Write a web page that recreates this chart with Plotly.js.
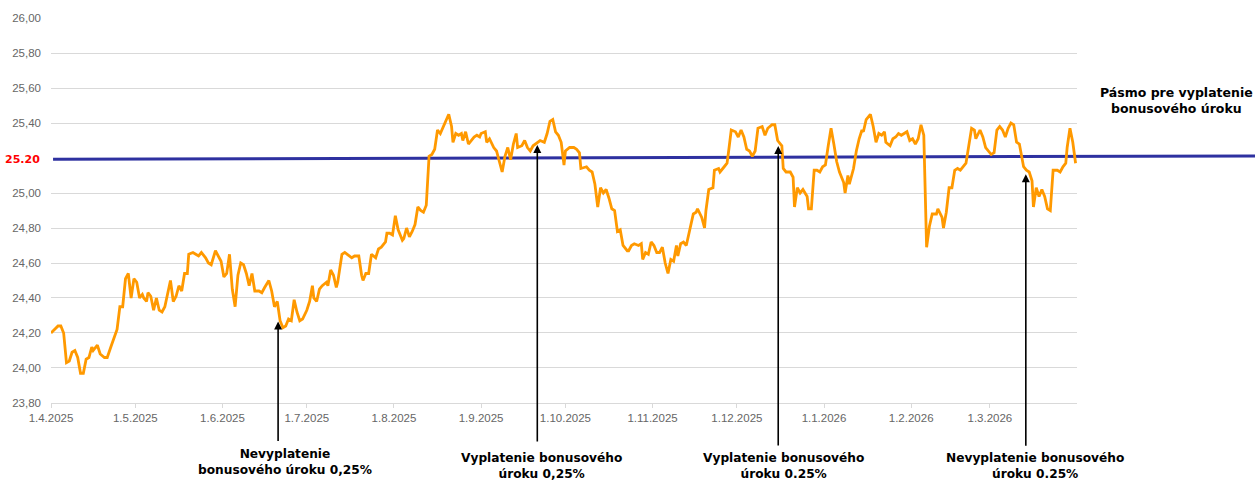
<!DOCTYPE html>
<html>
<head>
<meta charset="utf-8">
<script src="https://cdn.plot.ly/plotly-3.0.1.min.js"></script>
<style>html,body{margin:0;padding:0;background:#fff;}#chart{width:1255px;height:481px;}</style>
</head>
<body>
<div id="chart"></div>
<script>
// Daily fixing series (date, value)
const dates = [
'2025-04-01','2025-04-03 12:00','2025-04-04 12:00','2025-04-05 12:00','2025-04-06 12:00','2025-04-07 12:00','2025-04-08 12:00','2025-04-09 12:00','2025-04-10 12:00','2025-04-11 12:00','2025-04-12 12:00','2025-04-13 12:00','2025-04-14 12:00','2025-04-15 12:00','2025-04-16','2025-04-17 12:00','2025-04-18 12:00','2025-04-20','2025-04-21','2025-04-21 12:00','2025-04-22 12:00','2025-04-24 12:00','2025-04-25 12:00','2025-04-26 12:00','2025-04-27 12:00','2025-04-28 12:00','2025-04-29 12:00','2025-04-30 12:00',
'2025-05-01 12:00','2025-05-02 12:00','2025-05-03 12:00','2025-05-04','2025-05-05','2025-05-05 12:00','2025-05-06 12:00','2025-05-07 12:00','2025-05-08 12:00','2025-05-09 12:00','2025-05-10 12:00','2025-05-11 12:00','2025-05-12 12:00','2025-05-13 12:00','2025-05-14 12:00','2025-05-15 12:00','2025-05-16 12:00','2025-05-17 12:00','2025-05-18 12:00','2025-05-19 12:00','2025-05-20','2025-05-21 12:00','2025-05-22 12:00','2025-05-23 12:00','2025-05-24 12:00','2025-05-26','2025-05-27','2025-05-28','2025-05-29 12:00','2025-05-30 12:00','2025-05-31 12:00',
'2025-06-01 12:00','2025-06-02 12:00','2025-06-03 12:00','2025-06-04 12:00','2025-06-05 12:00','2025-06-06 12:00','2025-06-07 12:00','2025-06-08 12:00','2025-06-09 12:00','2025-06-10 12:00','2025-06-11 12:00','2025-06-12 12:00','2025-06-14','2025-06-15','2025-06-16','2025-06-17','2025-06-17 12:00','2025-06-18 12:00','2025-06-19 12:00','2025-06-20 12:00','2025-06-21 12:00','2025-06-22 12:00','2025-06-23 12:00','2025-06-24 12:00','2025-06-25 12:00','2025-06-26 12:00','2025-06-27 12:00','2025-06-28 12:00','2025-06-29 12:00',
'2025-07-01','2025-07-02','2025-07-03','2025-07-03 12:00','2025-07-04 12:00','2025-07-05 12:00','2025-07-06 12:00','2025-07-08','2025-07-08 12:00','2025-07-09 12:00','2025-07-10 12:00','2025-07-11 12:00','2025-07-12','2025-07-13 12:00','2025-07-14 12:00','2025-07-16','2025-07-17','2025-07-18','2025-07-19 12:00','2025-07-20 12:00','2025-07-21','2025-07-22','2025-07-23','2025-07-24','2025-07-25 12:00','2025-07-26 12:00','2025-07-27 12:00','2025-07-29','2025-07-29 12:00','2025-07-30 12:00','2025-07-31 12:00',
'2025-08-01 12:00','2025-08-02 12:00','2025-08-04','2025-08-04 12:00','2025-08-05 12:00','2025-08-06 12:00','2025-08-07 12:00','2025-08-08 12:00','2025-08-09 12:00','2025-08-10 12:00','2025-08-11 12:00','2025-08-12 12:00','2025-08-13 12:00','2025-08-14 12:00','2025-08-15 12:00','2025-08-16 12:00','2025-08-17 12:00','2025-08-18 12:00','2025-08-20','2025-08-20 12:00','2025-08-21 12:00','2025-08-22','2025-08-23','2025-08-24','2025-08-25','2025-08-25 12:00','2025-08-26 12:00','2025-08-27 12:00','2025-08-28 12:00','2025-08-29 12:00','2025-08-30 12:00','2025-08-31 12:00',
'2025-09-01','2025-09-02 12:00','2025-09-03','2025-09-04','2025-09-05 12:00','2025-09-06 12:00','2025-09-07 12:00','2025-09-08 12:00','2025-09-09 12:00','2025-09-10 12:00','2025-09-11 12:00','2025-09-12 12:00','2025-09-13 12:00','2025-09-14','2025-09-15 12:00','2025-09-16 12:00','2025-09-17 12:00','2025-09-18 12:00','2025-09-19 12:00','2025-09-21','2025-09-22','2025-09-23 12:00','2025-09-24 12:00','2025-09-25 12:00','2025-09-26 12:00','2025-09-27 12:00','2025-09-28 12:00','2025-09-29 12:00','2025-09-30 12:00',
'2025-10-01','2025-10-02 12:00','2025-10-04','2025-10-05','2025-10-06','2025-10-06 12:00','2025-10-08 12:00','2025-10-09 12:00','2025-10-10 12:00','2025-10-11 12:00','2025-10-12 12:00','2025-10-13 12:00','2025-10-14 12:00','2025-10-15 12:00','2025-10-16 12:00','2025-10-17 12:00','2025-10-18 12:00','2025-10-19 12:00','2025-10-20 12:00','2025-10-21 12:00','2025-10-23','2025-10-23 12:00','2025-10-24 12:00','2025-10-25 12:00','2025-10-27','2025-10-28','2025-10-28 12:00','2025-10-29 12:00','2025-10-30 12:00','2025-10-31 12:00',
'2025-11-01 12:00','2025-11-02 12:00','2025-11-03 12:00','2025-11-04 12:00','2025-11-05 12:00','2025-11-06 12:00','2025-11-07 12:00','2025-11-08 12:00','2025-11-09 12:00','2025-11-10','2025-11-11','2025-11-12','2025-11-13','2025-11-14 12:00','2025-11-15 12:00','2025-11-16 12:00','2025-11-17','2025-11-18 12:00','2025-11-19 12:00','2025-11-20','2025-11-21','2025-11-22 12:00','2025-11-23','2025-11-24 12:00','2025-11-25','2025-11-26 12:00','2025-11-27 12:00','2025-11-28','2025-11-29','2025-11-30 12:00',
'2025-12-01 12:00','2025-12-02 12:00','2025-12-03 12:00','2025-12-04 12:00','2025-12-05 12:00','2025-12-06 12:00','2025-12-07 12:00','2025-12-08 12:00','2025-12-10','2025-12-11','2025-12-12','2025-12-13 12:00','2025-12-14 12:00','2025-12-15 12:00','2025-12-16 12:00','2025-12-17','2025-12-17 12:00','2025-12-18 12:00','2025-12-20','2025-12-21','2025-12-21 12:00','2025-12-22 12:00','2025-12-23 12:00','2025-12-24 12:00','2025-12-26','2025-12-26 12:00','2025-12-27 12:00','2025-12-28 12:00','2025-12-29 12:00','2025-12-30 12:00','2025-12-31 12:00',
'2026-01-01 12:00','2026-01-02 12:00','2026-01-03 12:00','2026-01-04 12:00','2026-01-05 12:00','2026-01-06 12:00','2026-01-08','2026-01-08 12:00','2026-01-09 12:00','2026-01-10','2026-01-11 12:00','2026-01-12 12:00','2026-01-13 12:00','2026-01-14 12:00','2026-01-15','2026-01-16','2026-01-17 12:00','2026-01-18 12:00','2026-01-19 12:00','2026-01-20 12:00','2026-01-21 12:00','2026-01-22 12:00','2026-01-23','2026-01-24 12:00','2026-01-25 12:00','2026-01-26 12:00','2026-01-27 12:00','2026-01-28 12:00','2026-01-29 12:00','2026-01-30 12:00','2026-01-31 12:00',
'2026-02-01 12:00','2026-02-02 12:00','2026-02-03 12:00','2026-02-04 12:00','2026-02-05 12:00','2026-02-06 12:00','2026-02-07 12:00','2026-02-08 12:00','2026-02-10','2026-02-10 12:00','2026-02-12','2026-02-12 12:00','2026-02-13 12:00','2026-02-14 12:00','2026-02-15 12:00','2026-02-16 12:00','2026-02-17 12:00','2026-02-18 12:00','2026-02-19 12:00','2026-02-20 12:00','2026-02-21 12:00','2026-02-22 12:00','2026-02-23 12:00','2026-02-24','2026-02-25 12:00','2026-02-26 12:00','2026-02-27 12:00','2026-02-28 12:00',
'2026-03-01 12:00','2026-03-02 12:00','2026-03-03 12:00','2026-03-04 12:00','2026-03-05 12:00','2026-03-06 12:00','2026-03-07 12:00','2026-03-08 12:00','2026-03-09 12:00','2026-03-10 12:00','2026-03-11 12:00','2026-03-13','2026-03-14','2026-03-15','2026-03-16','2026-03-16 12:00','2026-03-17 12:00','2026-03-18 12:00','2026-03-19 12:00','2026-03-20 12:00','2026-03-21 12:00','2026-03-22 12:00','2026-03-23 12:00','2026-03-25','2026-03-26','2026-03-27','2026-03-28','2026-03-28 12:00','2026-03-29 12:00','2026-03-30 12:00','2026-03-31 12:00'
];
const values = [
24.20,24.24,24.24,24.20,24.03,24.04,24.09,24.10,24.06,23.97,23.97,24.05,24.06,24.12,24.10,24.13,24.08,24.06,24.06,24.08,24.13,24.22,24.35,24.35,24.51,24.54,24.40,24.51,
24.49,24.40,24.42,24.40,24.38,24.43,24.41,24.33,24.40,24.33,24.32,24.35,24.42,24.50,24.38,24.41,24.47,24.44,24.54,24.54,24.65,24.66,24.65,24.64,24.66,24.63,24.60,24.59,24.67,24.64,24.61,
24.52,24.54,24.65,24.45,24.35,24.53,24.60,24.59,24.54,24.47,24.54,24.44,24.44,24.43,24.46,24.49,24.50,24.44,24.35,24.38,24.27,24.23,24.24,24.28,24.27,24.39,24.32,24.27,24.28,
24.33,24.38,24.47,24.40,24.38,24.45,24.47,24.49,24.47,24.56,24.53,24.46,24.49,24.65,24.66,24.64,24.63,24.64,24.64,24.53,24.50,24.54,24.54,24.65,24.63,24.68,24.69,24.72,24.77,24.77,24.76,
24.87,24.79,24.73,24.74,24.80,24.75,24.78,24.82,24.92,24.90,24.89,24.93,25.21,25.22,25.25,25.36,25.34,25.38,25.44,25.45,25.38,25.29,25.34,25.33,25.34,25.30,25.35,25.28,25.30,25.32,25.33,25.32,
25.34,25.35,25.29,25.31,25.26,25.24,25.18,25.12,25.21,25.26,25.19,25.28,25.34,25.26,25.27,25.30,25.26,25.24,25.27,25.29,25.30,25.29,25.34,25.41,25.42,25.35,25.33,25.29,25.16,
25.24,25.26,25.26,25.25,25.23,25.14,25.15,25.13,25.12,25.05,24.92,25.03,25.00,25.02,24.97,24.91,24.90,24.78,24.79,24.70,24.67,24.67,24.70,24.71,24.70,24.71,24.62,24.66,24.65,24.72,
24.70,24.66,24.66,24.69,24.60,24.54,24.62,24.61,24.70,24.64,24.71,24.72,24.70,24.81,24.88,24.89,24.91,24.86,24.80,24.90,25.02,25.03,25.13,25.14,25.12,25.15,25.17,25.23,25.36,25.35,
25.32,25.36,25.32,25.25,25.24,25.21,25.24,25.37,25.38,25.33,25.37,25.39,25.39,25.30,25.28,25.27,25.14,25.12,25.12,25.09,24.92,25.03,25.00,25.02,24.98,24.91,24.91,25.13,25.13,25.12,25.15,
25.16,25.27,25.37,25.28,25.18,25.12,25.06,25.00,25.10,25.05,25.14,25.24,25.31,25.36,25.35,25.42,25.45,25.38,25.29,25.34,25.33,25.35,25.29,25.27,25.31,25.32,25.34,25.33,25.34,25.35,25.30,
25.31,25.28,25.31,25.39,25.33,24.69,24.81,24.88,24.88,24.91,24.86,24.80,24.89,25.03,25.03,25.13,25.14,25.13,25.15,25.17,25.27,25.37,25.36,25.31,25.36,25.32,25.26,25.24,
25.22,25.23,25.36,25.38,25.36,25.32,25.37,25.40,25.39,25.29,25.28,25.15,25.13,25.12,25.07,24.92,25.03,24.98,25.02,24.98,24.91,24.90,25.13,25.13,25.12,25.15,25.17,25.26,25.37,25.29,25.17
];

const monthTicks = ['2025-04-01','2025-05-01','2025-06-01','2025-07-01','2025-08-01','2025-09-01','2025-10-01','2025-11-01','2025-12-01','2026-01-01','2026-02-01','2026-03-01'];
const monthLabels = ['1.4.2025','1.5.2025','1.6.2025','1.7.2025','1.8.2025','1.9.2025','1.10.2025','1.11.2025','1.12.2025','1.1.2026','1.2.2026','1.3.2026'];
// y ticks (the 25.20 level carries its own red label instead)
const yTicks = [23.8, 24.0, 24.2, 24.4, 24.6, 24.8, 25.0, 25.4, 25.6, 25.8, 26.0];

const bandLevel = 25.20;
const bandLabel = '25.20';
const bandText = 'Pásmo pre vyplatenie<br>bonusového úroku';

// events: arrow tip (date, value) and caption
const eventDates = ['2025-06-20 19:00','2025-09-21 00:00','2025-12-15 17:00','2026-03-13 19:00'];
const eventValues = [24.265, 25.274, 25.269, 25.107];
const eventTexts = [
  'Nevyplatenie<br>bonusového úroku 0,25%',
  'Vyplatenie bonusového<br>úroku 0,25%',
  'Vyplatenie bonusového<br>úroku 0.25%',
  'Nevyplatenie bonusového<br>úroku 0.25%'
];
const arrowLen = [121, 298, 301, 273];
const captionX = [0.2281, 0.4776, 0.7144, 0.9591];
const captionY = [-0.1532, -0.1636, -0.1636, -0.1636];

const annFont = {family:'DejaVu Sans, Verdana, sans-serif', size:12.2, color:'#000000'};

const annotations = [
  {xref:'paper', yref:'y', x:-0.009, y:bandLevel - 0.007, xanchor:'right', yanchor:'middle',
   text:'<b>'+bandLabel+'</b>', showarrow:false,
   font:{family:'DejaVu Sans, Verdana, sans-serif', size:11, color:'#FF0000'}},
  {xref:'paper', yref:'paper', x:1.0965, y:0.7857, xanchor:'center', yanchor:'middle',
   text:'<b>'+bandText+'</b>', showarrow:false, align:'center',
   font:{family:'DejaVu Sans, Verdana, sans-serif', size:12.5, color:'#000000'}}
];
for (let i = 0; i < eventDates.length; i++) {
  annotations.push({xref:'x', yref:'y', x:eventDates[i], y:eventValues[i], text:'',
    showarrow:true, ax:0, ay:arrowLen[i], arrowhead:2, arrowsize:1, arrowwidth:1.6,
    arrowcolor:'#000000', standoff:0, startstandoff:0});
  annotations.push({xref:'paper', yref:'paper', x:captionX[i], y:captionY[i],
    xanchor:'center', yanchor:'middle', align:'center', showarrow:false,
    text:'<b>'+eventTexts[i]+'</b>', font:annFont});
}

const trace = {
  x: dates, y: values, type:'scatter', mode:'lines',
  line:{color:'#FF9900', width:2.8, shape:'linear'},
  hoverinfo:'skip'
};

const layout = {
  width:1255, height:481,
  margin:{l:51, r:178, t:18, b:78, pad:0},
  paper_bgcolor:'#ffffff', plot_bgcolor:'#ffffff',
  separators:', ',
  showlegend:false,
  font:{family:'Liberation Sans, Arial, sans-serif', size:11.5, color:'#666666'},
  xaxis:{
    type:'date', range:['2025-04-01','2026-04-01'],
    tickmode:'array', tickvals:monthTicks, ticktext:monthLabels,
    ticks:'outside', ticklen:4, tickcolor:'#d9d9d9', tickwidth:1,
    showgrid:false, zeroline:false, showline:true, linecolor:'#d9d9d9', linewidth:1,
    tickfont:{family:'Liberation Sans, Arial, sans-serif', size:11.5, color:'#666666'},
    fixedrange:true
  },
  yaxis:{
    range:[23.7999, 26.0001], tickmode:'array', tickvals:yTicks, tickformat:'.2f',
    showgrid:true, gridcolor:'#d9d9d9', gridwidth:1, zeroline:false, showline:false,
    ticks:'', ticklabelstandoff:9,
    tickfont:{family:'Liberation Sans, Arial, sans-serif', size:11.5, color:'#666666'},
    fixedrange:true
  },
  shapes:[
    {type:'line', xref:'paper', yref:'y', x0:0.002, x1:1.175, y0:bandLevel - 0.007, y1:bandLevel + 0.012,
     line:{color:'#2E31A0', width:3}, layer:'between'}
  ],
  annotations: annotations
};

Plotly.newPlot('chart', [trace], layout, {displayModeBar:false, staticPlot:true});
</script>
</body>
</html>
